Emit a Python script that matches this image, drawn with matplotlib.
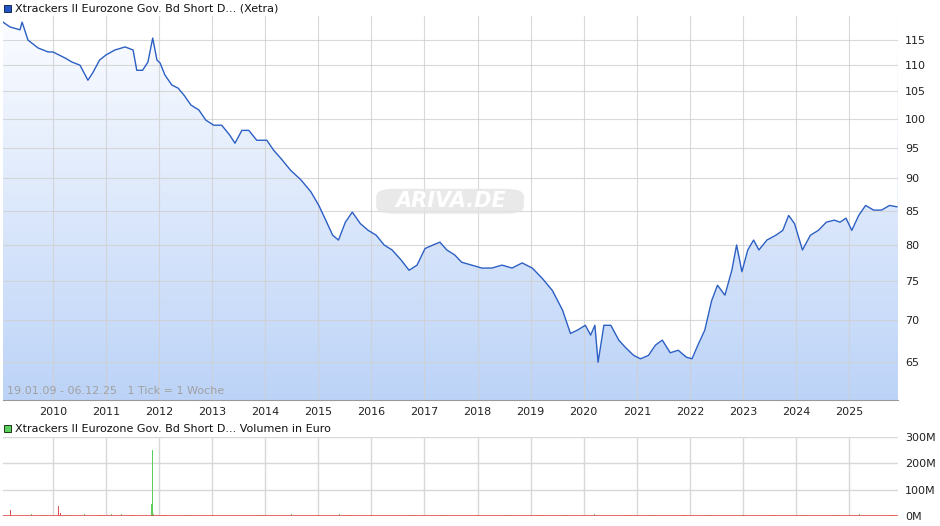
import numpy as np
import matplotlib
matplotlib.use("Agg")
import matplotlib.pyplot as plt
from matplotlib.patches import Rectangle, FancyBboxPatch
from matplotlib.colors import LinearSegmentedColormap
from matplotlib.ticker import FixedLocator, NullLocator, FixedFormatter

# price data (decimal year, value)
years = [2009.06,2009.19,2009.38,2009.42,2009.53,2009.72,2009.91,2010.0,2010.23,2010.36,2010.51,2010.66,2010.75,2010.88,
 2011.0,2011.17,2011.36,2011.51,2011.58,2011.69,2011.79,2011.88,2011.96,2012.02,2012.11,2012.24,2012.36,2012.47,2012.6,2012.75,
 2012.88,2013.03,2013.18,2013.33,2013.43,2013.56,2013.69,2013.84,2014.03,2014.16,2014.29,2014.48,2014.67,2014.86,2015.01,
 2015.14,2015.27,2015.38,2015.51,2015.64,2015.79,2015.94,2016.09,2016.24,2016.39,2016.56,2016.71,2016.86,2017.01,2017.16,
 2017.29,2017.42,2017.57,2017.7,2017.89,2018.08,2018.27,2018.46,2018.65,2018.84,2019.03,2019.22,2019.41,2019.6,2019.75,
 2019.88,2020.03,2020.13,2020.21,2020.27,2020.38,2020.51,2020.66,2020.79,2020.94,2021.07,2021.22,2021.35,2021.48,2021.63,
 2021.78,2021.93,2022.04,2022.15,2022.28,2022.41,2022.52,2022.66,2022.79,2022.88,2022.98,2023.09,2023.2,2023.3,2023.45,
 2023.62,2023.75,2023.86,2023.97,2024.12,2024.27,2024.42,2024.57,2024.72,2024.83,2024.94,2025.05,2025.18,2025.31,2025.46,
 2025.61,2025.76,2025.9]
values = [118.7,117.7,117.1,118.7,115.0,113.4,112.6,112.6,111.4,110.6,110.0,107.1,108.5,111.0,
 112.0,113.0,113.6,113.0,109.0,109.0,110.6,115.4,111.0,110.4,108.1,106.2,105.6,104.3,102.5,101.6,
 99.8,98.9,98.9,97.2,95.8,98.0,98.0,96.3,96.3,94.6,93.3,91.3,89.8,87.9,85.8,
 83.6,81.4,80.7,83.3,84.8,83.1,82.1,81.4,80.0,79.3,77.9,76.5,77.2,79.5,80.0,
 80.4,79.3,78.6,77.6,77.2,76.8,76.8,77.2,76.8,77.5,76.8,75.4,73.8,71.3,68.4,
 68.8,69.4,68.2,69.4,65.0,69.4,69.4,67.6,66.7,65.8,65.4,65.8,67.0,67.6,66.1,
 66.4,65.6,65.4,67.0,68.8,72.5,74.5,73.2,76.5,80.0,76.3,79.3,80.7,79.3,80.7,
 81.4,82.1,84.3,83.1,79.3,81.4,82.1,83.3,83.6,83.3,83.9,82.1,84.3,85.8,85.1,
 85.1,85.8,85.6]
price_ticks = [65, 70, 75, 80, 85, 90, 95, 100, 105, 110, 115]

vol_years = [2009.2,2009.6,2009.8,2010.1,2010.15,2010.3,2010.6,2010.9,2011.1,2011.3,2011.5,2011.85,2011.87,2011.9,2012.1,2012.5,2013.0,2013.9,2014.5,2015.0,2015.4,2015.6,2016.0,2016.8,2017.3,2018.0,2018.6,2019.2,2019.7,2020.2,2020.8,2021.3,2021.9,2022.4,2023.0,2023.6,2024.2,2024.7,2025.2,2025.8]
vol_values = [21,6,4,37,12,5,8,4,6,9,5,47,250,8,4,5,3,4,6,3,8,4,3,3,5,3,4,3,4,6,3,4,3,4,4,3,5,4,6,3]
vol_up = [0,1,1,0,0,1,1,0,1,1,0,1,1,1,0,1,0,1,1,0,1,0,0,1,1,0,1,0,1,1,0,1,0,1,1,0,1,1,1,0]

W, H = 940, 526
fig = plt.figure(figsize=(9.4, 5.26), dpi=100)
def ax_rect(x0, y0, x1, y1):
    return [x0 / W, 1 - y1 / H, (x1 - x0) / W, (y1 - y0) / H]

ax = fig.add_axes(ax_rect(3, 16, 898, 400))
xmin, xmax, ymin, ymax = 2009.06, 2025.92, 60.8, 120.0
ax.set_yscale("log")
cmap = LinearSegmentedColormap.from_list("g", ["#bcd3f7", "#fbfcff"])
levels = np.geomspace(ymin, ymax, 120)
for i in range(len(levels) - 1):
    ax.axhspan(levels[i], levels[i + 1], color=cmap(i / (len(levels) - 2)), lw=0,
               antialiased=False, zorder=1)
ax.fill_between(years, values, ymax, color="white", lw=0, zorder=1.5)
ax.set_xlim(xmin, xmax); ax.set_ylim(ymin, ymax)
ax.plot(years, values, color="#2b5fc4", lw=1.0, zorder=3)
yrs = list(range(2010, 2026))
ax.set_xticks(yrs); ax.set_xticklabels([str(y) for y in yrs])
ax.yaxis.set_major_locator(FixedLocator(price_ticks))
ax.yaxis.set_major_formatter(FixedFormatter([str(v) for v in price_ticks]))
ax.yaxis.set_minor_locator(NullLocator())
ax.set_axisbelow(False)
ax.grid(True, color="#d0d0d0", lw=0.8, alpha=0.8)
ax.yaxis.tick_right()
ax.tick_params(length=0, labelsize=8, colors="#222222", pad=5)
for s in ax.spines.values(): s.set_visible(False)
ax.spines["bottom"].set_visible(True); ax.spines["bottom"].set_color("#999999")
ax.text(0.005, 0.015, "19.01.09 - 06.12.25   1 Tick = 1 Woche", transform=ax.transAxes,
        fontsize=8, color="#a0a0a0", zorder=5)
bb = FancyBboxPatch((0.422, 0.49), 0.155, 0.055, boxstyle="round,pad=0.005,rounding_size=0.02",
                    transform=ax.transAxes, fc="#e4e4e4", ec="none", alpha=0.8, zorder=4)
ax.add_patch(bb)
ax.text(0.5, 0.518, "ARIVA.DE", transform=ax.transAxes, ha="center", va="center",
        fontsize=15, color="white", style="italic", fontweight="bold", zorder=5)

fig.patches.append(Rectangle((4 / W, 1 - 12 / H), 7 / W, 7 / H, transform=fig.transFigure,
                             fc="#1f56c4", ec="#1a2a55", lw=0.7))
fig.text(15 / W, 1 - 8.5 / H, "Xtrackers II Eurozone Gov. Bd Short D... (Xetra)", fontsize=8, va="center", color="#111")

vax = fig.add_axes(ax_rect(3, 437, 898, 516))
vax.set_xlim(xmin, xmax); vax.set_ylim(0, 300)
vax.bar(vol_years, vol_values, width=0.02,
        color=["#5ccf5c" if u else "#e05050" for u in vol_up], zorder=3)
vax.axhline(1.5, color="#e05050", lw=1.2, zorder=3)
vax.set_xticks(yrs); vax.set_xticklabels([])
vax.set_yticks([0, 100, 200, 300]); vax.set_yticklabels(["0M", "100M", "200M", "300M"])
vax.grid(True, color="#d8d8d8", lw=1, zorder=0)
vax.yaxis.tick_right()
vax.tick_params(length=0, labelsize=8, colors="#222222", pad=5)
for s in vax.spines.values(): s.set_visible(False)
fig.patches.append(Rectangle((4 / W, 1 - 432 / H), 7 / W, 7 / H, transform=fig.transFigure,
                             fc="#5ccf5c", ec="#1a3a1a", lw=0.7))
fig.text(15 / W, 1 - 428.5 / H, "Xtrackers II Eurozone Gov. Bd Short D... Volumen in Euro", fontsize=8, va="center", color="#111")

fig.savefig("out.png", dpi=100)
